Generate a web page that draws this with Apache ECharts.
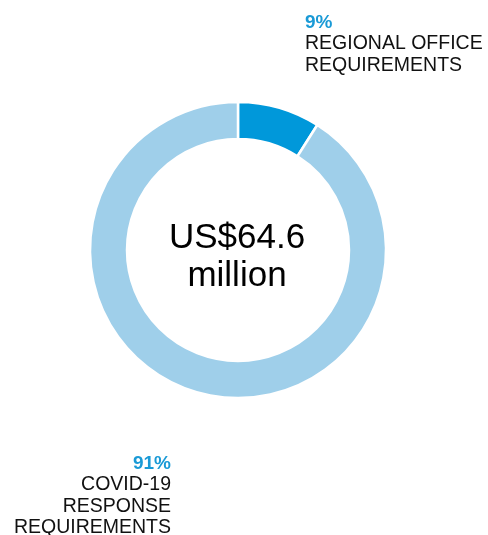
<!DOCTYPE html>
<html><head><meta charset="utf-8">
<script src="https://cdn.jsdelivr.net/npm/echarts@6/dist/echarts.min.js"></script>
<style>html,body{margin:0;padding:0;background:#fff}#c{width:488px;height:535px}</style>
</head><body><div id="c"></div>
<script>
const categories = ['REGIONAL OFFICE\nREQUIREMENTS', 'COVID-19\nRESPONSE\nREQUIREMENTS'];
const values = [9, 91];
const colors = ['#0098da', '#9fcfea'];
const totalLabel = ['US$64.6', 'million'];

const chart = echarts.init(document.getElementById('c'), null, {renderer: 'canvas'});
const font = '"Liberation Sans", Arial, Helvetica, sans-serif';
const total = values.reduce((a, b) => a + b, 0);
const pct = values.map(v => Math.round(v / total * 100) + '%');
const blue = '#1a9ad6';

chart.setOption({
  animation: false,
  series: [{
    type: 'pie',
    center: [238, 250],
    radius: [111, 148],
    startAngle: 90,
    clockwise: true,
    label: {show: false},
    labelLine: {show: false},
    emphasis: {disabled: true},
    itemStyle: {borderColor: '#fff', borderWidth: 2.5},
    data: categories.map((c, i) => ({name: c, value: values[i], itemStyle: {color: colors[i]}}))
  }],
  graphic: [
    {type: 'text', x: 237, y: 257, style: {
      text: totalLabel.join('\n'), textAlign: 'center', textVerticalAlign: 'middle',
      font: '35px ' + font, lineHeight: 38, fill: '#000'
    }},
    {type: 'text', x: 305, y: 12, style: {
      text: '{p|' + pct[0] + '}\n{t|' + categories[0].split('\n').join('}\n{t|') + '}',
      textAlign: 'left', textVerticalAlign: 'top',
      rich: {
        p: {fontFamily: font, fontSize: 19, fontWeight: 'bold', fill: blue, lineHeight: 21},
        t: {fontFamily: font, fontSize: 19.5, fill: '#111', lineHeight: 21.5}
      }
    }},
    {type: 'text', x: 171, y: 453, style: {
      text: '{p|' + pct[1] + '}\n{t|' + categories[1].split('\n').join('}\n{t|') + '}',
      textAlign: 'right', textVerticalAlign: 'top',
      rich: {
        p: {fontFamily: font, fontSize: 19, fontWeight: 'bold', fill: blue, lineHeight: 21, align: 'right'},
        t: {fontFamily: font, fontSize: 19.5, fill: '#111', lineHeight: 21.5, align: 'right'}
      }
    }}
  ]
});
</script></body></html>
